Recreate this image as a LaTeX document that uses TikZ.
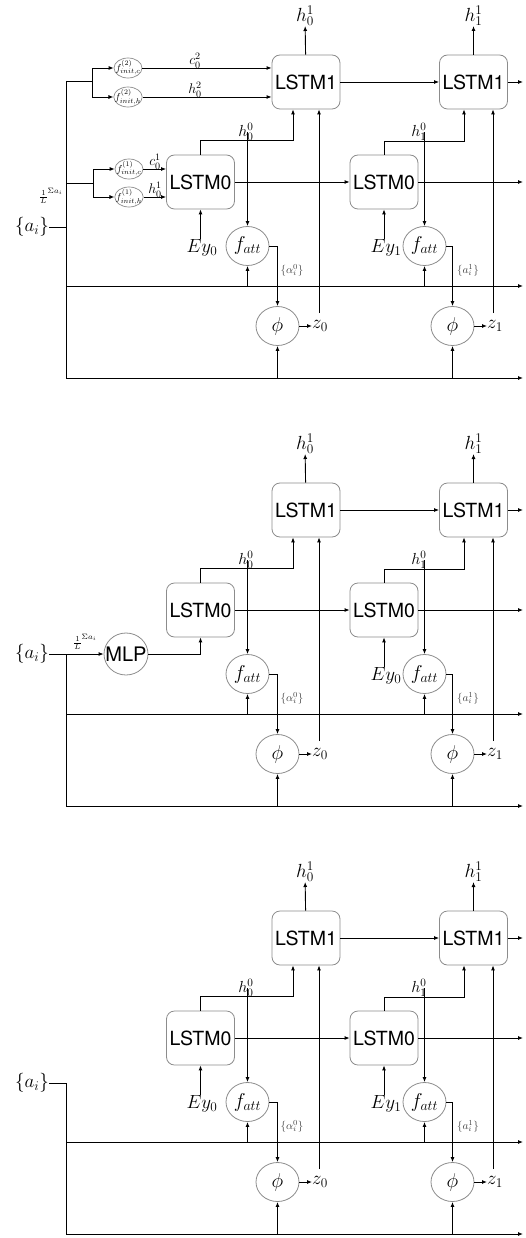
\RequirePackage{fix-cm}
\documentclass[tikz,border=0pt]{standalone}
\usepackage{fontspec}
\newfontfamily\hel{TeX Gyre Heros}
\usetikzlibrary{arrows.meta,shapes.geometric}
\tikzset{
  lstm/.style={draw=black!45, line width=0.8pt, rounded corners=8pt, minimum width=68pt, minimum height=54pt, inner sep=0pt, font=\hel\fontsize{19.5}{22}\selectfont},
  circ/.style={ellipse, draw=black!45, line width=0.8pt, minimum width=43pt, minimum height=39pt, inner xsep=-2pt, inner ysep=0pt, font=\fontsize{20}{24}\selectfont},
  mlp/.style={ellipse, draw=black!45, line width=0.8pt, minimum width=44pt, minimum height=42pt, inner xsep=-6pt, inner ysep=0pt, font=\hel\fontsize{20}{24}\selectfont},
  fi/.style={ellipse, draw=black!45, line width=0.7pt, minimum width=28pt, minimum height=20pt, inner xsep=-3pt, inner ysep=-3pt, font=\fontsize{10}{11}\selectfont},
  lbl/.style={inner sep=0pt, font=\fontsize{19}{22}\selectfont},
  mlbl/.style={inner sep=0pt, font=\fontsize{16}{19}\selectfont},
  slbl/.style={inner sep=0pt, font=\fontsize{14}{16}\selectfont},
  tlbl/.style={inner sep=0pt, text=black!75, font=\fontsize{11}{13}\selectfont},
  ln/.style={line width=0.9pt},
  arr/.style={line width=0.9pt, -{Latex[length=5pt,width=4pt]}},
}
\newcommand\diagcore[1]{%
  \node[lstm] (#1L1a) at (306,82) {LSTM1};
  \node[lstm] (#1L1b) at (473.5,82) {LSTM1};
  \node[lstm] (#1L0a) at (200.5,182) {LSTM0};
  \node[lstm] (#1L0b) at (384,182) {LSTM0};
  \node[circ] (#1Fa) at (247.5,246) {$f_{att}$};
  \node[circ] (#1Fb) at (424.5,246) {$f_{att}$};
  \node[circ] (#1Pa) at (277.5,326) {$\phi$};
  \node[circ] (#1Pb) at (452.5,326) {$\phi$};
  \node[lbl,anchor=south] (#1ha) at (305,26) {$h_0^1$};
  \node[lbl,anchor=south] (#1hb) at (473.5,26) {$h_1^1$};
  \node[mlbl] (#1ga) at (246,132) {$h_0^0$};
  \node[mlbl] (#1gb) at (419,132) {$h_1^0$};
  \node[lbl,anchor=west] (#1za) at (312,326) {$z_0$};
  \node[lbl,anchor=west] (#1zb) at (487,326) {$z_1$};
  \node[tlbl] (#1aa) at (292,270) {$\{\alpha_i^0\}$};
  \node[tlbl] (#1ab) at (468,270) {$\{a_i^1\}$};
  \coordinate (#1RA) at (66,286); \coordinate (#1RAe) at (523,286);
  \coordinate (#1RB) at (66,378); \coordinate (#1RBe) at (523,378);
  \coordinate (#1E1) at (523,82); \coordinate (#1E0) at (523,182);
  \coordinate (#1ta) at (319,313); \coordinate (#1tb) at (493,313);
  \draw[arr] (#1L1a) -- (#1L1b);
  \draw[arr] (#1L1b) -- (#1E1);
  \draw[arr] (#1L0a) -- (#1L0b);
  \draw[arr] (#1L0b) -- (#1E0);
  \draw[arr] (#1L1a) -- (#1ha);
  \draw[arr] (#1L1b) -- (#1hb);
  \draw[arr] (#1L0a.north) -- ++(0,-14) -| ([xshift=-13pt]#1L1a.south);
  \draw[arr] (#1L0b.north) -- ++(0,-13) -| ([xshift=-9.5pt]#1L1b.south);
  \draw[arr] (#1Fa.north |- #1ga) -- (#1Fa.north);
  \draw[arr] (#1Fb.north |- #1gb) -- (#1Fb.north);
  \draw[arr] (#1RA) -- (#1RAe);
  \draw[arr] (#1RB) -- (#1RBe);
  \draw[arr] (#1Fa.south |- #1RA) -- (#1Fa.south);
  \draw[arr] (#1Fb.south |- #1RA) -- (#1Fb.south);
  \draw[arr] (#1Fa.east) -| (#1Pa.north);
  \draw[arr] (#1Fb.east) -| (#1Pb.north);
  \draw[arr] (#1Pa.south |- #1RB) -- (#1Pa.south);
  \draw[arr] (#1Pb.south |- #1RB) -- (#1Pb.south);
  \draw[arr] (#1Pa.east) -- (#1za.west);
  \draw[arr] (#1Pb.east) -- (#1zb.west);
  \draw[arr] (#1ta) -- (#1ta |- #1L1a.south);
  \draw[arr] (#1tb) -- (#1tb |- #1L1b.south);
}
\begin{document}
\begin{tikzpicture}[x=1pt,y=-1pt]
\useasboundingbox (0,0) rectangle (525,1238);
% ---------- top diagram ----------
\begin{scope}
  \diagcore{A}
  \node[lbl] (AEa) at (202,248) {$Ey_0$};
  \node[lbl] (AEb) at (386,248) {$Ey_1$};
  \draw[arr] (AL0a.south |- AEa.north) -- (AL0a.south);
  \draw[arr] (AL0b.south |- AEb.north) -- (AL0b.south);
  \node[fi] (Ac2) at (128,68) {$f^{(2)}_{init,c}$};
  \node[fi] (Ah2) at (128,97) {$f^{(2)}_{init,h}$};
  \node[fi] (Ac1) at (129,169) {$f^{(1)}_{init,c}$};
  \node[fi] (Ah1) at (129,197) {$f^{(1)}_{init,h}$};
  \node[slbl] (Alc2) at (195,61) {$c_0^2$};
  \node[slbl] (Alh2) at (195,90) {$h_0^2$};
  \node[slbl] (Alc1) at (155,162) {$c_0^1$};
  \node[slbl] (Alh1) at (155,190) {$h_0^1$};
  \node[lbl] (Aai) at (32,227) {$\{a_i\}$};
  \node[tlbl,text=black] (Afr) at (51,196) {$\frac{1}{L}^{\Sigma a_i}$};
  \coordinate (Ab1) at (66,81); \coordinate (Ab1r) at (92,81);
  \coordinate (Ab2) at (66,183); \coordinate (Ab2r) at (93,183);
  \draw[ln] (Ab1) -- (ARB);
  \draw[ln] (Aai) -- (Aai -| Ab1);
  \draw[ln] (Ab1) -- (Ab1r);
  \draw[ln] (Ab2) -- (Ab2r);
  \draw[arr] (Ab1r) |- (Ac2);
  \draw[arr] (Ab1r) |- (Ah2);
  \draw[arr] (Ab2r) |- (Ac1);
  \draw[arr] (Ab2r) |- (Ah1);
  \draw[arr] (Ac2) -- (Ac2 -| AL1a.west);
  \draw[arr] (Ah2) -- (Ah2 -| AL1a.west);
  \draw[arr] (Ac1) -- (Ac1 -| AL0a.west);
  \draw[arr] (Ah1) -- (Ah1 -| AL0a.west);
\end{scope}
% ---------- middle diagram ----------
\begin{scope}[shift={(0,428)}]
  \diagcore{B}
  \node[lbl] (BEb) at (386,248) {$Ey_0$};
  \draw[arr] (BL0b.south |- BEb.north) -- (BL0b.south);
  \node[lbl] (Bai) at (32,226) {$\{a_i\}$};
  \node[mlp] (Bmlp) at (126,226) {MLP};
  \node[tlbl,text=black] (Bfr) at (85,214) {$\frac{1}{L}^{\Sigma a_i}$};
  \coordinate (Bb) at (66,226);
  \draw[arr] (Bai) -- (Bmlp);
  \draw[ln] (Bb) -- (BRB);
  \draw[arr] (Bmlp.east) -| (BL0a.south);
\end{scope}
% ---------- bottom diagram ----------
\begin{scope}[shift={(0,856)}]
  \diagcore{C}
  \node[lbl] (CEa) at (202,248) {$Ey_0$};
  \node[lbl] (CEb) at (386,248) {$Ey_1$};
  \draw[arr] (CL0a.south |- CEa.north) -- (CL0a.south);
  \draw[arr] (CL0b.south |- CEb.north) -- (CL0b.south);
  \node[lbl] (Cai) at (32,227) {$\{a_i\}$};
  \draw[ln] (Cai.east) -| (CRB);
\end{scope}
\end{tikzpicture}
\end{document}
